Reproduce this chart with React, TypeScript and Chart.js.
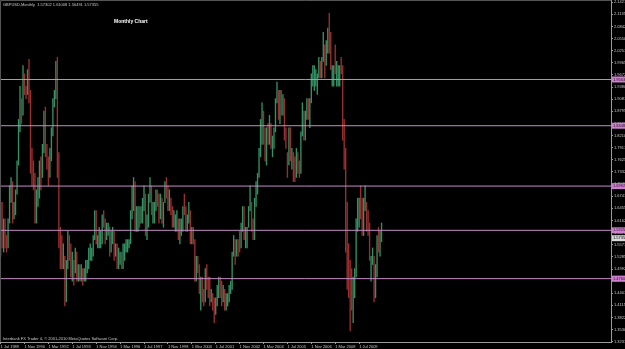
import React, { useEffect, useRef } from 'react';
import { Chart, registerables } from 'chart.js';
Chart.register(...registerables);

// GBPUSD monthly, Jul 1989 .. Oct 2010 (open = previous close)
const firstOpen = 1.55;
const highs = [
  1.66,1.66,1.62,1.62,1.58,1.62,
  1.70,1.72,1.71,1.66,1.69,1.76,1.86,1.94,1.91,1.99,1.97,1.94,
  1.98,2.005,1.93,1.79,1.76,1.73,1.69,1.72,1.76,1.77,1.80,1.88,
  1.89,1.80,1.77,1.79,1.84,1.91,1.93,2.00,2.01,1.78,1.60,1.58,
  1.56,1.53,1.52,1.59,1.58,1.56,1.54,1.52,1.55,1.54,1.51,1.51,
  1.51,1.50,1.50,1.52,1.52,1.55,1.56,1.55,1.58,1.64,1.64,1.58,
  1.60,1.59,1.63,1.64,1.62,1.61,1.61,1.60,1.59,1.60,1.59,1.56,
  1.56,1.55,1.54,1.54,1.56,1.56,1.57,1.57,1.57,1.64,1.70,1.72,
  1.71,1.65,1.65,1.65,1.65,1.67,1.70,1.68,1.63,1.68,1.72,1.70,
  1.66,1.66,1.69,1.69,1.68,1.68,1.67,1.66,1.71,1.72,1.70,1.69,
  1.67,1.65,1.64,1.63,1.64,1.62,1.62,1.62,1.65,1.68,1.65,1.63,
  1.66,1.64,1.60,1.60,1.57,1.53,1.53,1.51,1.48,1.48,1.45,1.50,
  1.51,1.48,1.48,1.45,1.44,1.43,1.43,1.46,1.48,1.48,1.47,1.46,
  1.45,1.44,1.44,1.46,1.47,1.54,1.58,1.57,1.57,1.57,1.59,1.61,
  1.65,1.65,1.60,1.60,1.65,1.70,1.66,1.62,1.67,1.71,1.73,1.79,
  1.86,1.90,1.88,1.84,1.84,1.85,1.87,1.85,1.82,1.84,1.91,1.95,
  1.93,1.93,1.93,1.92,1.91,1.84,1.78,1.84,1.84,1.79,1.78,1.77,
  1.79,1.78,1.76,1.83,1.90,1.88,1.88,1.91,1.91,1.91,1.97,1.99,
  1.99,1.98,1.97,2.01,2.00,2.01,2.07,2.04,2.05,2.08,2.116,2.07,
  1.99,1.99,2.04,2.00,1.99,1.99,2.01,1.99,1.86,1.79,1.66,1.56,
  1.52,1.50,1.48,1.50,1.62,1.67,1.67,1.70,1.67,1.67,1.70,1.66,
  1.64,1.61,1.53,1.55,1.53,1.51,1.58,1.60,1.59,1.61008,
];
const lows = [
  1.53,1.55,1.54,1.55,1.54,1.55,
  1.61,1.66,1.61,1.62,1.63,1.68,1.75,1.83,1.85,1.87,1.92,1.91,
  1.92,1.90,1.73,1.70,1.69,1.61,1.61,1.65,1.67,1.69,1.72,1.78,
  1.77,1.74,1.70,1.72,1.76,1.82,1.89,1.91,1.72,1.55,1.50,1.50,
  1.50,1.41,1.42,1.50,1.52,1.48,1.47,1.46,1.49,1.47,1.47,1.47,
  1.47,1.46,1.47,1.47,1.49,1.50,1.52,1.52,1.53,1.57,1.56,1.55,
  1.55,1.55,1.56,1.60,1.56,1.57,1.58,1.53,1.54,1.56,1.52,1.53,
  1.50,1.50,1.51,1.50,1.50,1.52,1.54,1.54,1.55,1.56,1.62,1.64,
  1.59,1.59,1.59,1.60,1.61,1.61,1.64,1.58,1.57,1.60,1.66,1.63,
  1.61,1.61,1.64,1.65,1.61,1.62,1.61,1.60,1.66,1.67,1.64,1.64,
  1.63,1.60,1.60,1.59,1.59,1.57,1.56,1.58,1.59,1.63,1.59,1.59,
  1.61,1.56,1.56,1.56,1.47,1.47,1.49,1.44,1.40,1.42,1.41,1.42,
  1.45,1.43,1.41,1.42,1.40,1.37,1.39,1.41,1.43,1.43,1.41,1.42,
  1.40,1.40,1.41,1.42,1.44,1.45,1.53,1.51,1.53,1.53,1.54,1.55,
  1.59,1.57,1.55,1.55,1.60,1.64,1.59,1.57,1.57,1.65,1.68,1.72,
  1.77,1.80,1.80,1.76,1.75,1.80,1.80,1.79,1.77,1.79,1.83,1.90,
  1.86,1.85,1.87,1.87,1.81,1.79,1.72,1.75,1.76,1.74,1.71,1.71,
  1.72,1.73,1.72,1.73,1.82,1.81,1.81,1.86,1.86,1.84,1.90,1.94,
  1.93,1.94,1.92,1.96,1.96,1.96,2.00,1.96,1.99,2.02,2.02,1.98,
  1.94,1.94,1.97,1.94,1.94,1.94,1.97,1.81,1.74,1.54,1.45,1.43,
  1.35,1.40,1.37,1.43,1.48,1.59,1.60,1.62,1.58,1.58,1.64,1.59,
  1.58,1.52,1.47,1.51,1.42,1.43,1.48,1.54,1.53,1.56491,
];
const closes = [
  1.65,1.57,1.61,1.58,1.57,1.61,
  1.69,1.70,1.64,1.64,1.68,1.75,1.84,1.90,1.87,1.95,1.94,1.93,
  1.96,1.91,1.75,1.73,1.72,1.62,1.68,1.68,1.75,1.73,1.78,1.87,
  1.78,1.75,1.73,1.77,1.83,1.90,1.92,1.99,1.77,1.58,1.53,1.51,
  1.53,1.43,1.51,1.57,1.55,1.49,1.50,1.49,1.53,1.48,1.49,1.48,
  1.49,1.48,1.49,1.51,1.51,1.54,1.54,1.54,1.58,1.63,1.56,1.56,
  1.58,1.58,1.62,1.61,1.58,1.59,1.59,1.55,1.58,1.58,1.53,1.55,
  1.51,1.53,1.53,1.51,1.55,1.55,1.55,1.56,1.56,1.63,1.68,1.71,
  1.60,1.63,1.64,1.62,1.64,1.66,1.68,1.61,1.61,1.68,1.69,1.64,
  1.64,1.65,1.68,1.67,1.63,1.67,1.63,1.68,1.70,1.69,1.65,1.66,
  1.64,1.60,1.61,1.61,1.61,1.58,1.61,1.61,1.65,1.64,1.60,1.61,
  1.62,1.58,1.59,1.56,1.49,1.51,1.50,1.45,1.47,1.45,1.42,1.49,
  1.47,1.44,1.42,1.43,1.42,1.41,1.42,1.45,1.47,1.45,1.42,1.45,
  1.41,1.42,1.42,1.46,1.46,1.53,1.57,1.54,1.57,1.56,1.55,1.61,
  1.64,1.58,1.58,1.60,1.65,1.65,1.61,1.58,1.66,1.69,1.72,1.78,
  1.82,1.87,1.84,1.77,1.83,1.81,1.82,1.80,1.81,1.84,1.91,1.92,
  1.88,1.92,1.89,1.91,1.82,1.79,1.76,1.80,1.76,1.77,1.73,1.72,
  1.78,1.75,1.74,1.82,1.88,1.85,1.87,1.90,1.87,1.91,1.96,1.96,
  1.96,1.96,1.97,2.00,1.98,2.01,2.03,2.01,2.04,2.08,2.06,1.99,
  1.99,1.99,1.98,1.98,1.98,1.99,1.98,1.82,1.78,1.61,1.54,1.46,
  1.45,1.43,1.43,1.48,1.62,1.65,1.67,1.63,1.60,1.65,1.65,1.61,
  1.60,1.52,1.52,1.53,1.44,1.49,1.57,1.55,1.57302,1.57355,
];

const dateTickIndex = [0,16,32,48,64,80,96,112,128,144,160,176,192,208,224,240];
const dateTickLabels = [
  '1 Jul 1989','1 Nov 1990','1 Mar 1992','1 Jul 1993','1 Nov 1994','1 Mar 1996',
  '1 Jul 1997','1 Nov 1998','1 Mar 2000','1 Jul 2001','1 Nov 2002','1 Mar 2004',
  '1 Jul 2005','1 Nov 2006','1 Mar 2008','1 Jul 2009',
];
const priceTicks = [
  2.14275,2.11350,2.08425,2.05500,2.02575,1.99650,1.96725,1.93800,1.90875,1.87950,
  1.85025,1.82100,1.79175,1.76250,1.73325,1.70400,1.67475,1.64550,1.61625,1.58700,
  1.55775,1.52850,1.49925,1.47000,1.44075,1.41150,1.38225,1.35300,1.32375,
];
const levelPrices = [1.9563, 1.8448, 1.6992, 1.5925, 1.4760];
const currentPrice = 1.57355;
const titleText = 'GBPUSD,Monthly  1.57302 1.61008 1.56491 1.57355';
const labelText = 'Monthly Chart';
const footerText = 'Interbank FX Trader 4, \u00a9 2001-2010 MetaQuotes Software Corp.';

const UP = '#339163';
const DOWN = '#9a2f2f';
const LEVEL = '#c48cc4';
const AXIS = '#9a9a9a';
const TEXT = '#c8c8c8';
const FONT = 'Liberation Sans';
const XMIN = -0.4;
const XMAX = 408.6;

const overlay = {
  id: 'mtOverlay',
  beforeDraw(chart: any) {
    const ctx = chart.ctx;
    ctx.save();
    ctx.fillStyle = '#000000';
    ctx.fillRect(0, 0, chart.width, chart.height);
    ctx.restore();
  },
  afterDraw(chart: any) {
    const ctx = chart.ctx;
    const ca = chart.chartArea;
    const ys = chart.scales.y;
    ctx.save();
    ctx.strokeStyle = '#555555';
    ctx.lineWidth = 1;
    ctx.beginPath();
    ctx.moveTo(0.5, ca.bottom);
    ctx.lineTo(0.5, 0.5);
    ctx.lineTo(ca.right, 0.5);
    ctx.stroke();

    ctx.textBaseline = 'middle';
    ctx.textAlign = 'left';
    ctx.fillStyle = TEXT;
    ctx.font = `4px "${FONT}"`;
    ctx.fillText(titleText, 3, 5);
    ctx.fillText(footerText, 3, 338.5);
    ctx.fillStyle = '#ffffff';
    ctx.font = `bold 5px "${FONT}"`;
    ctx.fillText(labelText, 114, 22);

    ctx.font = `4px "${FONT}"`;
    levelPrices.forEach((p) => {
      const y = ys.getPixelForValue(p);
      ctx.fillStyle = '#cf7fcf';
      ctx.fillRect(ca.right + 1, y - 3, 20, 6);
      ctx.fillStyle = '#1a1a1a';
      ctx.fillText(p.toFixed(5), ca.right + 2, y);
    });
    const cy = ys.getPixelForValue(currentPrice);
    ctx.fillStyle = '#d8d8d8';
    ctx.fillRect(ca.right + 1, cy - 3, 20, 6);
    ctx.fillStyle = '#000000';
    ctx.fillText(currentPrice.toFixed(5), ca.right + 2, cy);
    ctx.restore();
  },
};

export default function App() {
  const ref = useRef<HTMLCanvasElement | null>(null);
  useEffect(() => {
    if (!ref.current) return;
    const bars = highs.map((h, i) => ({ x: i, y: [lows[i], h] }));
    const colors = closes.map((c, i) => {
      const o = i === 0 ? firstOpen : closes[i - 1];
      return c >= o ? UP : DOWN;
    });
    const levelSets = levelPrices.map((p) => ({
      type: 'line' as const,
      data: [{ x: XMIN, y: p }, { x: XMAX, y: p }],
      borderColor: LEVEL,
      borderWidth: 1,
      pointRadius: 0,
      fill: false,
    }));
    const chart = new Chart(ref.current, {
      type: 'bar',
      data: {
        datasets: [
          ...levelSets,
          {
            type: 'bar' as const,
            data: bars as any,
            backgroundColor: colors,
            borderWidth: 0,
            barThickness: 0.7,
            grouped: false,
          } as any,
        ],
      },
      options: {
        responsive: false,
        animation: false,
        layout: { padding: { left: 0, top: 0, right: 0, bottom: 0 }, autoPadding: false },
        plugins: { legend: { display: false }, tooltip: { enabled: false }, title: { display: false } },
        scales: {
          x: {
            type: 'linear',
            min: XMIN,
            max: XMAX,
            offset: false,
            position: 'bottom',
            grid: { offset: false, drawOnChartArea: false, drawTicks: true, tickLength: 2, color: AXIS },
            border: { color: AXIS },
            ticks: {
              align: 'start',
              padding: 0,
              color: TEXT,
              maxRotation: 0,
              autoSkip: false,
              font: { size: 4, family: FONT },
              callback: (v: any) => {
                const k = dateTickIndex.indexOf(Number(v));
                return k >= 0 ? dateTickLabels[k] : '';
              },
            },
            afterBuildTicks: (s: any) => {
              s.ticks = dateTickIndex.map((v) => ({ value: v }));
            },
            afterFit: (s: any) => {
              s.height = 7;
              s.paddingLeft = 0;
              s.paddingRight = 0;
            },
          },
          y: {
            type: 'linear',
            position: 'right',
            min: 1.3232,
            max: 2.148,
            grid: { drawOnChartArea: false, drawTicks: true, tickLength: 2, color: AXIS },
            border: { color: AXIS },
            ticks: {
              padding: 1,
              color: TEXT,
              autoSkip: false,
              font: { size: 4, family: FONT },
              callback: (v: any) => Number(v).toFixed(5),
            },
            afterBuildTicks: (s: any) => {
              s.ticks = priceTicks.map((v) => ({ value: v }));
            },
            afterFit: (s: any) => {
              s.width = 14;
              s.paddingTop = 0;
              s.paddingBottom = 0;
            },
          },
        },
      } as any,
      plugins: [overlay],
    });
    return () => chart.destroy();
  }, []);
  return (
    <div style={{ position: 'fixed', left: 0, top: 0, width: 625, height: 349, background: '#000' }}>
      <canvas ref={ref} width={625} height={349} style={{ display: 'block' }} />
    </div>
  );
}
